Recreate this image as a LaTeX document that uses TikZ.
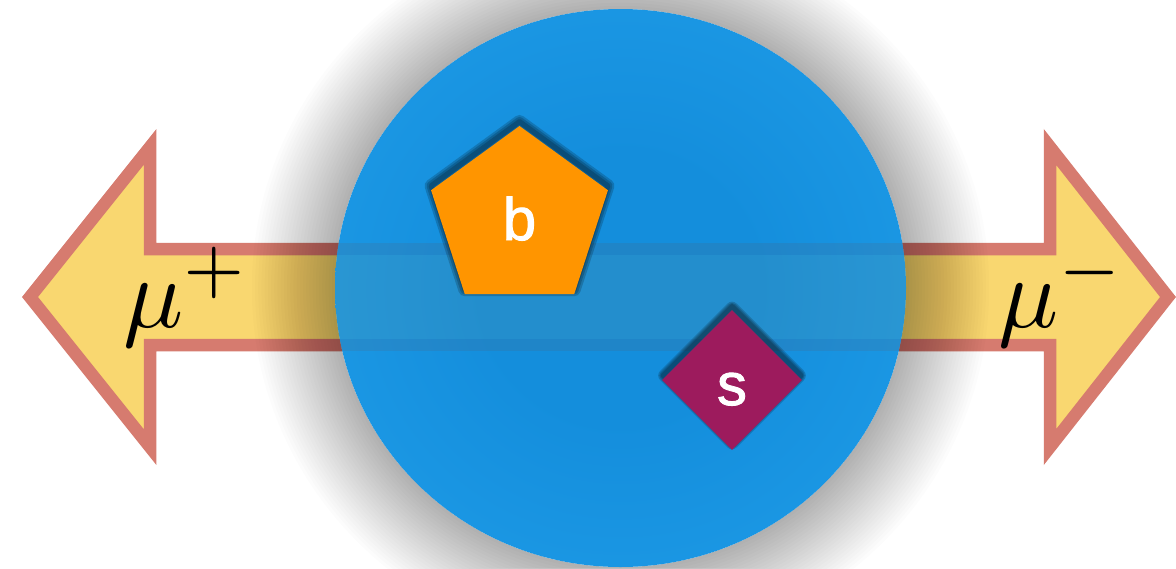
\documentclass[tikz,border=0pt]{standalone}
\usepackage{fontspec}
\usetikzlibrary{shapes.geometric}
\newfontfamily\labfont{Liberation Sans}[FakeBold=1.5]
\definecolor{arrowfill}{RGB}{249,215,112}
\definecolor{arrowline}{RGB}{214,123,111}
\definecolor{ballin}{RGB}{20,142,220}
\definecolor{ballout}{RGB}{38,166,240}
\definecolor{borange}{RGB}{255,149,0}
\definecolor{spurple}{RGB}{157,27,93}
\pgfdeclareradialshading{ballshade}{\pgfpoint{0bp}{0bp}}{color(0bp)=(ballin); color(12bp)=(ballin); color(50bp)=(ballout)}
\tikzset{
  arrowshape/.style={fill=arrowfill, draw=arrowline, line width=12.5pt, miter limit=10},
  labeltext/.style={text=white, font=\labfont\fontsize{60}{60}\selectfont},
  mulabel/.style={anchor=base west, inner sep=0pt},
  pentashape/.style={regular polygon, regular polygon sides=5, minimum size=186pt, inner sep=0pt},
  diamshape/.style={diamond, minimum width=140pt, minimum height=140pt, inner sep=0pt},
  shapeshadow/.style={draw=black, line join=round, draw opacity=0.18},
}
\begin{document}
\begin{tikzpicture}[x=1pt,y=-1pt]
\clip (0,0) rectangle (1176,568);
\fill[white] (0,0) rectangle (1176,568);
\coordinate (c) at (620.5,288);
% double arrow
\draw[arrowshape] (30,297) -- (150,147) -- (150,249) -- (1050,249) -- (1050,147)
  -- (1168,297) -- (1050,447) -- (1050,345) -- (150,345) -- (150,447) -- cycle;
% soft shadow of the ball
\foreach \i [evaluate=\i as \rx using 285.5+3.2*\i, evaluate=\i as \ry using 279+3.2*\i] in {1,...,26}{
  \fill[black, opacity=0.011, even odd rule] (c) ellipse [x radius=\rx, y radius=\ry]
    (c) ellipse [x radius=285.5, y radius=279];
}
% ball
\node[ellipse, minimum width=571pt, minimum height=558pt, inner sep=0pt, shading=ballshade] (ball) at (c) {};
% arrow shaft seen through the ball
\begin{scope}
  \clip (c) ellipse [x radius=285.5, y radius=279];
  \fill[arrowline!55!black, opacity=0.12] (330,243) rectangle (912,255);
  \fill[arrowline!55!black, opacity=0.12] (330,339) rectangle (912,351);
  \fill[arrowfill!70!black, opacity=0.1] (330,255) rectangle (912,339);
\end{scope}
% shape shadows
\foreach \w [count=\k] in {13,9,5}{
  \node[pentashape, shapeshadow, line width=\w pt] (bsh\k) at (519.5,214.5) {};
  \node[diamshape, shapeshadow, line width=\w pt] (ssh\k) at (732,375.5) {};
}
% quarks
\node[pentashape, fill=borange, labeltext, text height=42pt, text depth=0pt] (b) at (519.5,219) {b};
\node[diamshape, fill=spurple, labeltext, text height=50pt, text depth=0pt] (s) at (732,380) {s};
% muon labels
\node[mulabel] (mup) at (123,327) {\scalebox{10}{$\mu^+$}};
\node[mulabel] (mum) at (998,327) {\scalebox{10}{$\mu^-$}};
\end{tikzpicture}
\end{document}
